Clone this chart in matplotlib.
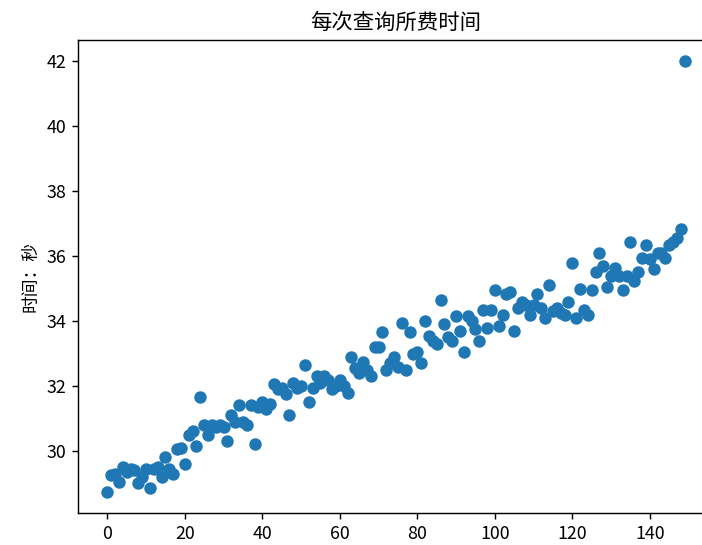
import numpy as np
import matplotlib.pyplot as plt

plt.rcParams['font.family'] = ['Noto Sans CJK SC', 'DejaVu Sans']

# query number and time taken per query (seconds)
query_idx = np.arange(150)
query_time = [
    28.75, 29.25, 29.3, 29.05, 29.5, 29.35, 29.45, 29.4, 29.0, 29.2,
    29.45, 28.85, 29.45, 29.5, 29.2, 29.8, 29.45, 29.3, 30.05, 30.1,
    29.6, 30.5, 30.6, 30.15, 31.65, 30.8, 30.5, 30.8, 30.75, 30.8,
    30.75, 30.3, 31.1, 30.9, 31.4, 30.9, 30.8, 31.4, 30.2, 31.35,
    31.5, 31.3, 31.45, 32.05, 31.9, 31.95, 31.75, 31.1, 32.1, 31.95,
    32.0, 32.65, 31.5, 31.95, 32.3, 32.1, 32.3, 32.2, 31.9, 32.0,
    32.2, 32.0, 31.8, 32.9, 32.55, 32.4, 32.75, 32.5, 32.3, 33.2,
    33.2, 33.65, 32.5, 32.7, 32.9, 32.6, 33.95, 32.5, 33.65, 33.0,
    33.05, 32.7, 34.0, 33.55, 33.4, 33.3, 34.65, 33.9, 33.5, 33.4,
    34.15, 33.7, 33.05, 34.15, 34.0, 33.75, 33.4, 34.35, 33.8, 34.35,
    34.95, 33.85, 34.2, 34.85, 34.9, 33.7, 34.4, 34.6, 34.5, 34.2,
    34.5, 34.85, 34.4, 34.1, 35.1, 34.3, 34.4, 34.25, 34.2, 34.6,
    35.8, 34.1, 35.0, 34.35, 34.2, 34.95, 35.5, 36.1, 35.7, 35.05,
    35.4, 35.65, 35.4, 34.95, 35.4, 36.45, 35.25, 35.5, 35.95, 36.35,
    35.9, 35.6, 36.1, 36.1, 35.95, 36.35, 36.45, 36.55, 36.85, 42.0,
]

fig = plt.figure(figsize=(702 / 128, 545 / 128), dpi=128)
# axes runs past the right edge of the figure
ax = fig.add_axes([0.1118, 0.0587, 0.9046, 0.868])
ax.scatter(query_idx, query_time)
ax.spines['right'].set_visible(False)
ax.set_title('每次查询所费时间')
ax.set_ylabel('时间：秒')
plt.savefig('out.png', dpi=128)
